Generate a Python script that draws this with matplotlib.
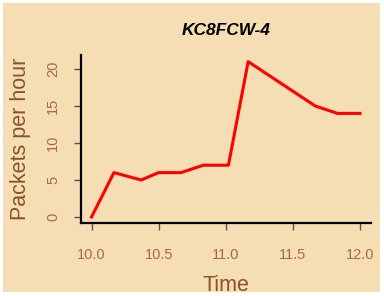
import matplotlib
matplotlib.use("Agg")
import matplotlib.pyplot as plt
from matplotlib.patches import Rectangle

# packets per hour for station KC8FCW-4
time_hours = [10.0, 10.167, 10.37, 10.5, 10.667, 10.833, 11.02, 11.167, 11.667, 11.833, 12.0]
packets = [0, 6, 5, 6, 6, 7, 7, 21, 15, 14, 14]
x_ticks = [10.0, 10.5, 11.0, 11.5, 12.0]
y_ticks = [0, 5, 10, 15, 20]

plt.rcParams['font.family'] = ['Liberation Sans', 'DejaVu Sans']

bg = '#F5DEB3'
tick_col = '#A86A45'
lab_col = '#8B5227'

fig = plt.figure(figsize=(3.84, 2.96), dpi=100, facecolor='white')
fig.patches.append(Rectangle((3/384, 4/296), 377/384, 289/296, transform=fig.transFigure,
                             facecolor=bg, edgecolor='none', zorder=-10))
ax = fig.add_axes([0.2104, 0.2459, 0.755, 0.5669])
ax.set_facecolor(bg)

ax.plot(time_hours, packets, color='#FF0000', linewidth=2.2, solid_joinstyle='round')

ax.set_xlim(9.92, 12.08)
ax.set_ylim(-0.84, 21.84)
for s in ['top', 'right']:
    ax.spines[s].set_visible(False)
for s in ['left', 'bottom']:
    ax.spines[s].set_linewidth(1.6)
    ax.spines[s].set_color('black')

ax.set_xticks(x_ticks)
ax.set_xticklabels(['%.1f' % t for t in x_ticks])
ax.set_yticks(y_ticks)
ax.set_yticklabels([str(t) for t in y_ticks], rotation=90, va='center')
ax.tick_params(axis='x', length=5, width=1, color='#555555', labelsize=10.5, labelcolor=tick_col, pad=13)
ax.tick_params(axis='y', length=5, width=1, color='#555555', labelsize=10.5, labelcolor=tick_col, pad=10)

ax.set_xlabel('Time', fontsize=15.5, color=lab_col, labelpad=9)
ax.set_ylabel('Packets per hour', fontsize=15.5, color=lab_col, labelpad=11)
ax.set_title('KC8FCW-4', fontsize=12.5, fontweight='bold', fontstyle='italic', pad=15)

fig.savefig('out.png', dpi=100, facecolor='white')
